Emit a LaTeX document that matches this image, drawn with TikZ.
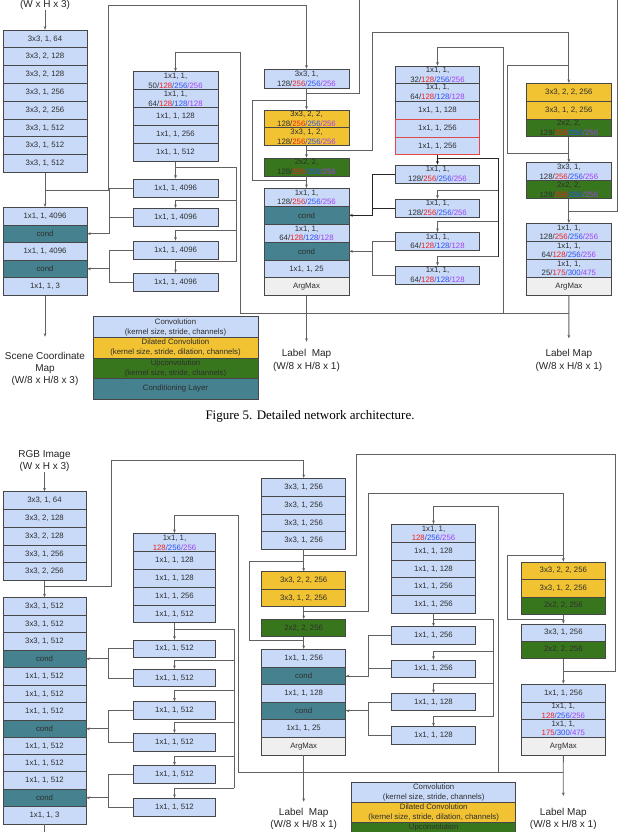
\documentclass[tikz,border=0pt]{standalone}
\usepackage{fontspec}
\setmainfont{Liberation Sans}
\newfontfamily\capfont{Liberation Serif}
\usetikzlibrary{arrows.meta}
\definecolor{cblue}{HTML}{C9DAF8}
\definecolor{cyel}{HTML}{F1C232}
\definecolor{cgrn}{HTML}{38761D}
\definecolor{cteal}{HTML}{45818E}
\definecolor{cgray}{HTML}{EFEFEF}
\definecolor{nred}{HTML}{F02020}
\definecolor{nblue}{HTML}{2F4FF0}
\definecolor{npur}{HTML}{A040F0}
\definecolor{rborder}{HTML}{E04848}
\newcommand\cR[1]{\textcolor{nred}{#1}}
\newcommand\cB[1]{\textcolor{nblue}{#1}}
\newcommand\cP[1]{\textcolor{npur}{#1}}
\newcommand\mkbox[7]{%
  \pgfmathsetmacro\mbcx{(#3+#5)/2}%
  \pgfmathsetmacro\mbcy{(#4+#6)/2}%
  \pgfmathsetmacro\mbw{#5-#3}%
  \pgfmathsetmacro\mbh{#6-#4}%
  \node[#2,minimum width=\mbw pt,minimum height=\mbh pt] (#1) at (\mbcx,\mbcy) {#7};}
\tikzset{
  blk/.style={draw=black!72, line width=0.7pt, inner sep=0pt, align=center,
    font=\fontsize{7.8}{9.7}\selectfont, text=black!82},
  conv/.style={blk, fill=cblue},
  convr/.style={blk, fill=cblue, draw=rborder},
  dil/.style={blk, fill=cyel},
  upc/.style={blk, fill=cgrn},
  cnd/.style={blk, fill=cteal},
  amx/.style={blk, fill=cgray},
  leg/.style={blk, font=\fontsize{7.8}{10}\selectfont},
  wire/.style={draw=black!62, line width=0.8pt},
  dwire/.style={draw=black!85, line width=0.8pt},
  arr/.style={wire, -{Stealth[length=3.5pt,width=2.8pt]}},
  darr/.style={dwire, -{Stealth[length=3.5pt,width=2.8pt]}},
  outlab/.style={align=center, font=\fontsize{10}{12.2}\selectfont, inner sep=1pt, text=black!85}
}
\begin{document}
\begin{tikzpicture}[x=1pt,y=-1pt]
\useasboundingbox (0,0) rectangle (622,832);
\clip (0,0) rectangle (622,832);
\fill[white] (0,0) rectangle (622,832);

% ================= TOP FIGURE =================
\node[outlab] (in1) at (45,-1.4) {RGB Image\\(W x H x 3)};
\mkbox{L1}{conv}{3}{30}{87}{47.8}{3x3, 1, 64}
\mkbox{L2}{conv}{3}{47.8}{87}{65.6}{3x3, 2, 128}
\mkbox{L3}{conv}{3}{65.6}{87}{83.4}{3x3, 2, 128}
\mkbox{L4}{conv}{3}{83.4}{87}{101.2}{3x3, 1, 256}
\mkbox{L5}{conv}{3}{101.2}{87}{119}{3x3, 2, 256}
\mkbox{L6}{conv}{3}{119}{87}{136.8}{3x3, 1, 512}
\mkbox{L7}{conv}{3}{136.8}{87}{154.6}{3x3, 1, 512}
\mkbox{L8}{conv}{3}{154.6}{87}{172.4}{3x3, 1, 512}

\mkbox{LC1}{conv}{3}{207.3}{87}{225}{1x1, 1, 4096}
\mkbox{LC2}{cnd}{3}{225}{87}{242.4}{cond}
\mkbox{LC3}{conv}{3}{242.4}{87}{260}{1x1, 1, 4096}
\mkbox{LC4}{cnd}{3}{260}{87}{277.7}{cond}
\mkbox{LC5}{conv}{3}{277.7}{87}{295.6}{1x1, 1, 3}
\node[outlab, font=\fontsize{10}{12}\selectfont] (out1) at (45,368.6) {Scene Coordinate\\Map\\(W/8 x H/8 x 3)};

% left generator
\mkbox{G1}{conv}{133}{71.7}{218}{89.7}{1x1, 1,\\50/\cR{128}\cB{/256}\cP{/256}}
\mkbox{G2}{conv}{133}{89.7}{218}{107.7}{1x1, 1,\\64/\cR{128}\cB{/128}\cP{/128}}
\mkbox{G3}{conv}{133}{107.7}{218}{125.7}{1x1, 1, 128}
\mkbox{G4}{conv}{133}{125.7}{218}{143.7}{1x1, 1, 256}
\mkbox{G5}{conv}{133}{143.7}{218}{161.7}{1x1, 1, 512}
\mkbox{E1}{conv}{133}{179}{218}{197.7}{1x1, 1, 4096}
\mkbox{E2}{conv}{133}{208.3}{218}{226}{1x1, 1, 4096}
\mkbox{E3}{conv}{133}{241}{218}{259}{1x1, 1, 4096}
\mkbox{E4}{conv}{133}{273.3}{218}{291}{1x1, 1, 4096}

% middle branch
\mkbox{M1}{conv}{264}{69}{349}{88}{3x3, 1,\\128/\cR{256}\cB{/256}\cP{/256}}
\mkbox{Y1}{dil}{264}{110}{349}{127.8}{3x3, 2, 2,\\128/\cR{256}\cB{/256}\cP{/256}}
\mkbox{Y2}{dil}{264}{127.8}{349}{145.5}{3x3, 1, 2,\\128/\cR{256}\cB{/256}\cP{/256}}
\mkbox{GR1}{upc}{264}{158}{349}{176}{2x2, 2,\\128/\cR{256}\cB{/256}\cP{/256}}
\mkbox{S1}{conv}{264}{188.3}{349}{206.7}{1x1, 1,\\128/\cR{256}\cB{/256}\cP{/256}}
\mkbox{S2}{cnd}{264}{206.7}{349}{224}{cond}
\mkbox{S3}{conv}{264}{224}{349}{242.6}{1x1, 1,\\64/\cR{128}\cB{/128}\cP{/128}}
\mkbox{S4}{cnd}{264}{242.6}{349}{260}{cond}
\mkbox{S5}{conv}{264}{260}{349}{277.8}{1x1, 1, 25}
\mkbox{S6}{amx}{264}{277.8}{349}{295.7}{ArgMax}
\node[outlab] (out2) at (306.5,360.5) {Label\ \ Map\\(W/8 x H/8 x 1)};

% middle generator
\mkbox{N1}{conv}{395.7}{66}{479.3}{83.3}{1x1, 1,\\32/\cR{128}\cB{/256}\cP{/256}}
\mkbox{N2}{conv}{395.7}{83.3}{479.3}{101}{1x1, 1,\\64/\cR{128}\cB{/128}\cP{/128}}
\mkbox{N3}{conv}{395.7}{101}{479.3}{119.3}{1x1, 1, 128}
\mkbox{N4}{convr}{395.7}{119.3}{479.3}{137}{1x1, 1, 256}
\mkbox{N5}{convr}{395.7}{137}{479.3}{154.7}{1x1, 1, 256}
\mkbox{NA}{conv}{395.7}{165}{479.3}{183.3}{1x1, 1,\\128/\cR{256}\cB{/256}\cP{/256}}
\mkbox{NB}{conv}{395.7}{199}{479.3}{217.3}{1x1, 1,\\128/\cR{256}\cB{/256}\cP{/256}}
\mkbox{NC}{conv}{395.7}{232.3}{479.3}{250.7}{1x1, 1,\\64/\cR{128}\cB{/128}\cP{/128}}
\mkbox{ND}{conv}{395.7}{266}{479.3}{284}{1x1, 1,\\64/\cR{128}\cB{/128}\cP{/128}}

% right branch
\mkbox{RY1}{dil}{526.7}{83.3}{611}{101.7}{3x3, 2, 2, 256}
\mkbox{RY2}{dil}{526.7}{101.7}{611}{119}{3x3, 1, 2, 256}
\mkbox{RG1}{upc}{526.7}{119}{611}{136.7}{2x2, 2,\\128/\cR{256}\cB{/256}\cP{/256}}
\mkbox{R2}{conv}{526.7}{162.7}{611}{180.7}{3x3, 1,\\128/\cR{256}\cB{/256}\cP{/256}}
\mkbox{RG2}{upc}{526.7}{180.7}{611}{198.3}{2x2, 2,\\128/\cR{256}\cB{/256}\cP{/256}}
\mkbox{RS1}{conv}{526.7}{223.3}{611}{241.7}{1x1, 1,\\128/\cR{256}\cB{/256}\cP{/256}}
\mkbox{RS2}{conv}{526.7}{241.7}{611}{259.3}{1x1, 1,\\64/\cR{128}\cB{/256}\cP{/256}}
\mkbox{RS3}{conv}{526.7}{259.3}{611}{277.3}{1x1, 1,\\25/\cR{175}\cB{/300}\cP{/475}}
\mkbox{RS4}{amx}{526.7}{277.3}{611}{295}{ArgMax}
\node[outlab] (out3) at (568.85,360.4) {Label Map\\(W/8 x H/8 x 1)};

% legend top
\mkbox{LG1}{leg,fill=cblue}{93}{316.7}{258}{337.7}{Convolution\\(kernel size, stride, channels)}
\mkbox{LG2}{leg,fill=cyel}{93}{337.7}{258}{358}{Dilated Convolution\\(kernel size, stride, dilation, channels)}
\mkbox{LG3}{leg,fill=cgrn}{93}{358}{258}{378.3}{Upconvolution\\(kernel size, stride, channels)}
\mkbox{LG4}{leg,fill=cteal}{93}{378.3}{258}{399}{Conditioning Layer}

\node[font=\capfont\fontsize{13}{15}\selectfont, inner sep=0pt] (cap) at (310,416) {Figure 5. Detailed network architecture.};

% ---- top connectors ----
\draw[arr] (in1.south) -- (L1.north);
\draw[arr] (L8.south) -- (LC1.north);
\coordinate (j1) at (45,190);
\coordinate (t1) at (108,5);
\draw[arr] (j1) -| (t1) -| (M1.north);
\coordinate (o1) at (45,336.7);
\draw[arr] (LC5.south) -- (o1);

\coordinate (lab1) at (240,313);
\coordinate (lab2) at (503,313);
\coordinate (lab3) at (568.85,313);
\coordinate (t2) at (240,52);
\draw[arr] (lab1) -- (t2) -| (G1.north);
\draw[wire] (lab1) -- (lab3);
\coordinate (gb0) at (175.5,167);
\coordinate (gb1) at (236.7,167);
\coordinate (gb2) at (236.7,200);
\coordinate (gb3) at (236.7,230);
\coordinate (gb4) at (236.7,261.7);
\draw[arr] (G5.south) -- (E1.north);
\draw[wire] (gb0) -- (gb1) -- (gb4);
\draw[arr] (gb2) -| (E2.north);
\draw[arr] (gb3) -| (E3.north);
\draw[arr] (gb4) -| (E4.north);
\draw[arr] (E1.west) -- ++(-23,0) |- (LC2.east);
\draw[wire] (E2.west) -- ++(-23,0);
\draw[arr] (E3.west) -- ++(-23,0) |- (LC4.east);
\draw[wire] (E4.west) -- ++(-23,0) |- (LC4.east);

\draw[arr] (M1.south) -- (Y1.north);
\coordinate (m93) at (306.5,93);
\coordinate (tr1) at (359,-3);
\coordinate (tr2) at (617,-3);
\coordinate (rj) at (568.85,211);
\draw[wire] (m93) -| (tr1) -- (tr2) |- (rj);
\coordinate (k1) at (306.5,100);
\coordinate (k2) at (252,180);
\coordinate (k3) at (306.5,180);
\draw[wire] (k1) -| (k2) -- (k3);
\coordinate (f1) at (306.5,150);
\coordinate (f2) at (372,32);
\draw[arr] (f1) -| (f2) -| (RY1.north);
\draw[arr] (Y2.south) -- (GR1.north);
\draw[arr] (GR1.south) -- (S1.north);
\coordinate (o2) at (306.5,341.7);
\draw[arr] (S6.south) -- (o2);

\coordinate (t3) at (503,47);
\draw[arr] (lab2) -- (t3) -| (N1.north);
\coordinate (nb0) at (437.5,158.3);
\coordinate (nb1) at (498,158.3);
\coordinate (nb2) at (498,190.7);
\coordinate (nb3) at (498,221.7);
\coordinate (nb4) at (498,256.7);
\draw[darr] (N5.south) -- (NA.north);
\draw[dwire] (nb0) -- (nb1) -- (nb4);
\draw[arr] (nb2) -| (NB.north);
\draw[arr] (nb3) -| (NC.north);
\draw[arr] (nb4) -| (ND.north);
\draw[darr] (NA.west) -- ++(-23.4,0) |- (S2.east);
\draw[dwire] (NB.west) -- ++(-23.4,0);
\draw[arr] (NC.west) -- ++(-23.4,0) |- (S4.east);
\draw[wire] (ND.west) -- ++(-23.4,0) |- (S4.east);

\coordinate (rk1) at (568.85,65);
\coordinate (rk2) at (507.7,153.3);
\coordinate (rk3) at (568.85,153.3);
\draw[wire] (rk1) -| (rk2) -- (rk3);
\draw[arr] (RG1.south) -- (R2.north);
\draw[arr] (RG2.south) -- (RS1.north);
\coordinate (o3) at (568.85,338.3);
\draw[arr] (RS4.south) -- (o3);

% ================= BOTTOM FIGURE =================
\node[outlab, font=\fontsize{10}{11.7}\selectfont] (in2) at (44.5,460.8) {RGB Image\\(W x H x 3)};
\mkbox{BL1}{conv}{3}{491.7}{86}{509.5}{3x3, 1, 64}
\mkbox{BL2}{conv}{3}{509.5}{86}{527.3}{3x3, 2, 128}
\mkbox{BL3}{conv}{3}{527.3}{86}{545}{3x3, 2, 128}
\mkbox{BL4}{conv}{3}{545}{86}{562.8}{3x3, 1, 256}
\mkbox{BL5}{conv}{3}{562.8}{86}{580.7}{3x3, 2, 256}

\mkbox{BC1}{conv}{3}{597.7}{86}{615.3}{3x3, 1, 512}
\mkbox{BC2}{conv}{3}{615.3}{86}{632.7}{3x3, 1, 512}
\mkbox{BC3}{conv}{3}{632.7}{86}{650}{3x3, 1, 512}
\mkbox{BC4}{cnd}{3}{650}{86}{667.7}{cond}
\mkbox{BC5}{conv}{3}{667.7}{86}{685}{1x1, 1, 512}
\mkbox{BC6}{conv}{3}{685}{86}{702.7}{1x1, 1, 512}
\mkbox{BC7}{conv}{3}{702.7}{86}{720}{1x1, 1, 512}
\mkbox{BC8}{cnd}{3}{720}{86}{737.7}{cond}
\mkbox{BC9}{conv}{3}{737.7}{86}{754.7}{1x1, 1, 512}
\mkbox{BC10}{conv}{3}{754.7}{86}{771.7}{1x1, 1, 512}
\mkbox{BC11}{conv}{3}{771.7}{86}{789}{1x1, 1, 512}
\mkbox{BC12}{cnd}{3}{789}{86}{806.7}{cond}
\mkbox{BC13}{conv}{3}{806.7}{86}{824}{1x1, 1, 3}

\mkbox{BG1}{conv}{133.3}{533.3}{215.7}{551.7}{1x1, 1,\\\cR{128}\cB{/256}\cP{/256}}
\mkbox{BG2}{conv}{133.3}{551.7}{215.7}{569.3}{1x1, 1, 128}
\mkbox{BG3}{conv}{133.3}{569.3}{215.7}{587.3}{1x1, 1, 128}
\mkbox{BG4}{conv}{133.3}{587.3}{215.7}{605}{1x1, 1, 256}
\mkbox{BG5}{conv}{133.3}{605}{215.7}{622.7}{1x1, 1, 512}
\mkbox{Q1}{conv}{133.3}{640}{215.7}{657.3}{1x1, 1, 512}
\mkbox{Q2}{conv}{133.3}{669.3}{215.7}{686.7}{1x1, 1, 512}
\mkbox{Q3}{conv}{133.3}{701.7}{215.7}{719.3}{1x1, 1, 512}
\mkbox{Q4}{conv}{133.3}{733.3}{215.7}{751}{1x1, 1, 512}
\mkbox{Q5}{conv}{133.3}{765.7}{215.7}{783.3}{1x1, 1, 512}
\mkbox{Q6}{conv}{133.3}{798.3}{215.7}{816}{1x1, 1, 512}

\mkbox{BM1}{conv}{261.7}{478.3}{345.7}{496.2}{3x3, 1, 256}
\mkbox{BM2}{conv}{261.7}{496.2}{345.7}{514}{3x3, 1, 256}
\mkbox{BM3}{conv}{261.7}{514}{345.7}{531.7}{3x3, 1, 256}
\mkbox{BM4}{conv}{261.7}{531.7}{345.7}{549}{3x3, 1, 256}
\mkbox{BMY1}{dil}{261.7}{571.7}{345.7}{589.3}{3x3, 2, 2, 256}
\mkbox{BMY2}{dil}{261.7}{589.3}{345.7}{606.7}{3x3, 1, 2, 256}
\mkbox{BMG}{upc}{261.7}{619.3}{345.7}{636.7}{2x2, 2, 256}
\mkbox{BS1}{conv}{261.7}{649.3}{345.7}{667.7}{1x1, 1, 256}
\mkbox{BS2}{cnd}{261.7}{667.7}{345.7}{684.3}{cond}
\mkbox{BS3}{conv}{261.7}{684.3}{345.7}{702.3}{1x1, 1, 128}
\mkbox{BS4}{cnd}{261.7}{702.3}{345.7}{719.3}{cond}
\mkbox{BS5}{conv}{261.7}{719.3}{345.7}{737.3}{1x1, 1, 25}
\mkbox{BS6}{amx}{261.7}{737.3}{345.7}{755}{ArgMax}
\node[outlab] (out5) at (303.7,819.2) {Label\ \ Map\\(W/8 x H/8 x 1)};

\mkbox{BN1}{conv}{391.7}{524.3}{475.3}{542.3}{1x1, 1,\\\cR{128}\cB{/256}\cP{/256}}
\mkbox{BN2}{conv}{391.7}{542.3}{475.3}{560}{1x1, 1, 128}
\mkbox{BN3}{conv}{391.7}{560}{475.3}{577.7}{1x1, 1, 128}
\mkbox{BN4}{conv}{391.7}{577.7}{475.3}{595.3}{1x1, 1, 256}
\mkbox{BN5}{conv}{391.7}{595.3}{475.3}{613}{1x1, 1, 256}
\mkbox{P1}{conv}{391.7}{626.7}{475.3}{644}{1x1, 1, 256}
\mkbox{P2}{conv}{391.7}{660}{475.3}{677.3}{1x1, 1, 256}
\mkbox{P3}{conv}{391.7}{693.3}{475.3}{710.7}{1x1, 1, 128}
\mkbox{P4}{conv}{391.7}{726.7}{475.3}{744}{1x1, 1, 128}

\mkbox{BRY1}{dil}{521.7}{562}{605}{579.5}{3x3, 2, 2, 256}
\mkbox{BRY2}{dil}{521.7}{579.5}{605}{597}{3x3, 1, 2, 256}
\mkbox{BRG1}{upc}{521.7}{597}{605}{614.5}{2x2, 2, 256}
\mkbox{BR2}{conv}{521.7}{624}{605}{641}{3x3, 1, 256}
\mkbox{BRG2}{upc}{521.7}{641}{605}{658.3}{2x2, 2, 256}
\mkbox{BRS1}{conv}{521.7}{684}{605}{702.3}{1x1, 1, 256}
\mkbox{BRS2}{conv}{521.7}{702.3}{605}{719.3}{1x1, 1,\\\cR{128}\cB{/256}\cP{/256}}
\mkbox{BRS3}{conv}{521.7}{719.3}{605}{737.3}{1x1, 1,\\\cR{175}\cB{/300}\cP{/475}}
\mkbox{BRS4}{amx}{521.7}{737.3}{605}{755}{ArgMax}
\node[outlab] (out6) at (563.3,819.2) {Label Map\\(W/8 x H/8 x 1)};

\mkbox{BLG1}{leg,fill=cblue}{351.7}{782.3}{515.7}{802.7}{Convolution\\(kernel size, stride, channels)}
\mkbox{BLG2}{leg,fill=cyel}{351.7}{802.7}{515.7}{822.7}{Dilated Convolution\\(kernel size, stride, dilation, channels)}
\mkbox{BLG3}{leg,fill=cgrn}{351.7}{822.7}{515.7}{843}{Upconvolution\\(kernel size, stride, channels)}

% ---- bottom connectors ----
\draw[arr] (in2.south) -- (BL1.north);
\draw[arr] (BL5.south) -- (BC1.north);
\coordinate (j2) at (44.5,586.7);
\coordinate (t4) at (111,460);
\draw[arr] (j2) -| (t4) -| (BM1.north);
\coordinate (o4) at (44.5,845);
\draw[arr] (BC13.south) -- (o4);

\coordinate (lab4) at (238.3,772.7);
\coordinate (lab5) at (498.3,772.7);
\coordinate (lab6) at (563.3,772.7);
\coordinate (t5) at (238.3,515);
\draw[arr] (lab4) -- (t5) -| (BG1.north);
\draw[wire] (lab4) -- (lab6);
\coordinate (qb0) at (174.5,629.3);
\coordinate (qb1) at (234.3,629.3);
\coordinate (qb2) at (234.3,660.7);
\coordinate (qb3) at (234.3,690.7);
\coordinate (qb4) at (234.3,722.7);
\coordinate (qb5) at (234.3,756);
\coordinate (qb6) at (234.3,788.3);
\draw[arr] (BG5.south) -- (Q1.north);
\draw[wire] (qb0) -- (qb1) -- (qb6);
\draw[arr] (qb2) -| (Q2.north);
\draw[arr] (qb3) -| (Q3.north);
\draw[arr] (qb4) -| (Q4.north);
\draw[arr] (qb5) -| (Q5.north);
\draw[arr] (qb6) -| (Q6.north);
\draw[arr] (Q1.west) -- ++(-25,0) |- (BC4.east);
\draw[wire] (Q2.west) -- ++(-25,0) |- (BC4.east);
\draw[arr] (Q3.west) -- ++(-25,0) |- (BC8.east);
\draw[wire] (Q4.west) -- ++(-25,0) |- (BC8.east);
\draw[arr] (Q5.west) -- ++(-25,0) |- (BC12.east);
\draw[wire] (Q6.west) -- ++(-25,0) |- (BC12.east);

\coordinate (u1) at (303.7,555);
\coordinate (u2) at (356,454);
\coordinate (u3) at (615,454);
\coordinate (rj2) at (563.3,671.7);
\draw[wire] (u1) -| (u2) -- (u3) |- (rj2);
\coordinate (v1) at (303.7,561.7);
\coordinate (v2) at (249,640.7);
\coordinate (v3) at (303.7,640.7);
\draw[wire] (v1) -| (v2) -- (v3);
\draw[arr] (BM4.south) -- (BMY1.north);
\coordinate (w1) at (303.7,611.7);
\coordinate (w2) at (368.3,493.3);
\draw[arr] (w1) -| (w2) -| (BRY1.north);
\draw[arr] (BMY2.south) -- (BMG.north);
\draw[arr] (BMG.south) -- (BS1.north);
\coordinate (o5) at (303.7,801.7);
\draw[arr] (BS6.south) -- (o5);

\coordinate (t6) at (498.3,506);
\draw[arr] (lab5) -- (t6) -| (BN1.north);
\coordinate (pb0) at (433.5,619.3);
\coordinate (pb1) at (493.3,619.3);
\coordinate (pb2) at (493.3,651.7);
\coordinate (pb3) at (493.3,683.3);
\coordinate (pb4) at (493.3,716.7);
\draw[arr] (BN5.south) -- (P1.north);
\draw[wire] (pb0) -- (pb1) -- (pb4);
\draw[arr] (pb2) -| (P2.north);
\draw[arr] (pb3) -| (P3.north);
\draw[arr] (pb4) -| (P4.north);
\draw[arr] (P1.west) -- ++(-23.4,0) |- (BS2.east);
\draw[wire] (P2.west) -- ++(-23.4,0) |- (BS2.east);
\draw[arr] (P3.west) -- ++(-23.4,0) |- (BS4.east);
\draw[wire] (P4.west) -- ++(-23.4,0) |- (BS4.east);

\coordinate (rk4) at (563.3,555);
\coordinate (rk5) at (507,619);
\coordinate (rk6) at (563.3,619);
\draw[wire] (rk4) -| (rk5) -- (rk6);
\draw[arr] (BRG1.south) -- (BR2.north);
\draw[arr] (BRG2.south) -- (BRS1.north);
\coordinate (o6) at (563.3,796);
\draw[arr] (BRS4.south) -- (o6);
\end{tikzpicture}
\end{document}
